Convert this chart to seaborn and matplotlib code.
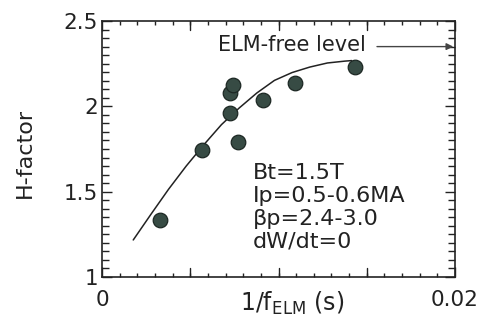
import matplotlib
matplotlib.use("Agg")
import matplotlib.pyplot as plt
from matplotlib.ticker import MultipleLocator, FixedLocator
import seaborn as sns
import pandas as pd

# Measured H-factor versus ELM period
elm_period = [0.0033, 0.00565, 0.00725, 0.00742, 0.00725, 0.00772, 0.00914, 0.01093, 0.01433]
h_factor = [1.334, 1.744, 2.078, 2.125, 1.959, 1.793, 2.037, 2.135, 2.232]

# Hand-drawn trend line through the data
trend_period = [0.00177, 0.00277, 0.00377, 0.00477, 0.00577, 0.00677, 0.00777,
                0.00877, 0.00977, 0.01077, 0.01177, 0.01277, 0.01377, 0.01415]
trend_h = [1.217, 1.367, 1.514, 1.650, 1.775, 1.893, 1.990,
           2.078, 2.152, 2.198, 2.230, 2.254, 2.265, 2.268]

elm_free_level = 2.35

x_ticks = [0, 0.02]
x_tick_labels = ["0", "0.02"]
y_ticks = [1, 1.5, 2, 2.5]
y_tick_labels = ["1", "1.5", "2", "2.5"]

conditions = ["Bt=1.5T", "Ip=0.5-0.6MA", "\u03b2p=2.4-3.0", "dW/dt=0"]

sns.set_theme(style="ticks")
plt.rcParams["font.family"] = ["DejaVu Sans"]

fig = plt.figure(figsize=(4.92, 3.20), dpi=100)
ax = fig.add_axes([102 / 492, 1 - 277 / 320, (455 - 102) / 492, (277 - 21) / 320])

ink = "#222222"
pts = pd.DataFrame({"period": elm_period, "H": h_factor})
trend = pd.DataFrame({"period": trend_period, "H": trend_h})

sns.lineplot(data=trend, x="period", y="H", sort=False, estimator=None,
             color=ink, lw=1.1, ax=ax)
sns.scatterplot(data=pts, x="period", y="H", s=110, color="#374b44",
                edgecolor="#1c2723", linewidth=0.9, ax=ax, zorder=3)

ax.set_xlim(0, 0.02)
ax.set_ylim(1, 2.5)

ax.xaxis.set_major_locator(FixedLocator(x_ticks))
ax.set_xticklabels(x_tick_labels)
ax.xaxis.set_minor_locator(MultipleLocator(0.001))
ax.set_yticks(y_ticks)
ax.set_yticklabels(y_tick_labels)
ax.yaxis.set_minor_locator(MultipleLocator(0.05))

# longer unlabelled ticks every 0.005 on the x axis
for xv in [0.005, 0.01, 0.015]:
    ax.plot([xv, xv], [1, 1 + 0.055], color=ink, lw=1.0, zorder=1)
    ax.plot([xv, xv], [2.5, 2.5 - 0.055], color=ink, lw=1.0, zorder=1)

ax.tick_params(axis="both", which="both", direction="in", top=True, right=True,
               colors=ink, width=1.0)
ax.tick_params(axis="x", which="major", length=7, pad=9, labelsize=15.5)
ax.tick_params(axis="x", which="minor", length=3)
ax.tick_params(axis="y", which="major", length=7, pad=3, labelsize=15.5)
ax.tick_params(axis="y", which="minor", length=5)

for sp in ax.spines.values():
    sp.set_color(ink)
    sp.set_linewidth(1.2)

ax.set_xlabel(r"1/f$_\mathregular{ELM}$ (s)", fontsize=17, color=ink)
ax.xaxis.set_label_coords(0.538, -0.05, transform=ax.transAxes)
ax.xaxis.label.set_va("top")
ax.set_ylabel("H-factor", fontsize=16, color=ink)
ax.yaxis.set_label_coords(25 / 492, 1 - 153 / 320, transform=fig.transFigure)
ax.yaxis.label.set_va("center")

ax.text(0.00657, 2.326, "ELM-free level", fontsize=15, color=ink, va="baseline", ha="left")
ax.annotate("", xy=(0.0199, elm_free_level), xytext=(0.01558, elm_free_level),
            arrowprops=dict(arrowstyle="-|>", color="#444444", lw=1.0,
                            mutation_scale=10, shrinkA=0, shrinkB=0))

for label, yb in zip(conditions, [1.574, 1.439, 1.305, 1.170]):
    ax.text(0.00856, yb, label, fontsize=16, color=ink, va="baseline", ha="left")

fig.savefig("out.png", dpi=100)
